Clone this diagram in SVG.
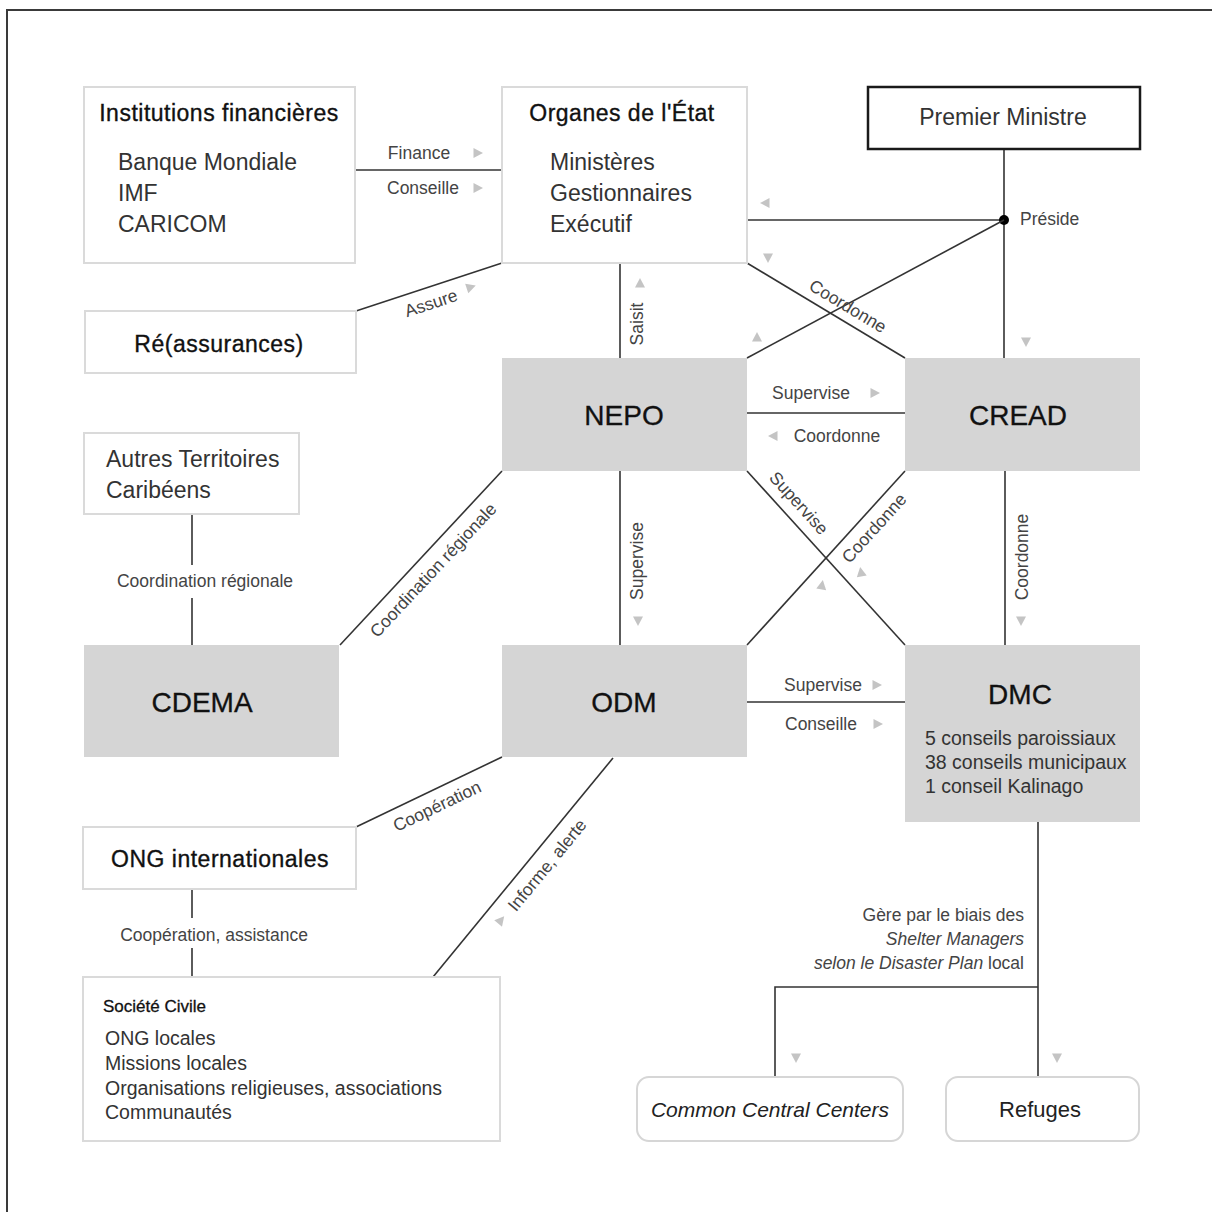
<svg xmlns="http://www.w3.org/2000/svg" xmlns:xlink="http://www.w3.org/1999/xlink" width="1212" height="1212" viewBox="0 0 1212 1212">
<style>
.frame{fill:none;stroke:#3a3a3a;stroke-width:2}
.box{fill:#fff;stroke:#dadada;stroke-width:2}
.gbox{fill:#d5d5d5;stroke:none}
.pm{fill:#fff;stroke:#1a1a1a;stroke-width:2.5}
.rbox{fill:#fff;stroke:#d6d6d6;stroke-width:2}
.ln{fill:none;stroke:#333;stroke-width:1.6}
text{font-family:"Liberation Sans",Arial,sans-serif}
.ttl{font-size:23px;fill:#111;letter-spacing:0.5px;stroke:#111;stroke-width:0.35}
.itm{font-size:23px;fill:#333}
.big{font-size:28px;fill:#111;stroke:#111;stroke-width:0.3}
.lbl{font-size:17.5px;fill:#444}
.sm{font-size:19.5px;fill:#333}
.arr{fill:#c4c4c4}
</style>
<defs>
<path id="tri" d="M-4.5,-5 L5,0 L-4.5,5Z"/>
</defs>
<rect class="frame" x="7" y="10" width="1240" height="1240"/>

<g id="connectors">
<line class="ln" x1="355" y1="170" x2="502" y2="170"/>
<line class="ln" x1="356" y1="311" x2="502" y2="263"/>
<line class="ln" x1="1004" y1="149" x2="1004" y2="358"/>
<line class="ln" x1="747" y1="220" x2="1004" y2="220"/>
<circle cx="1004" cy="220" r="5" fill="#000"/>
<line class="ln" x1="1004" y1="220" x2="747" y2="358"/>
<line class="ln" x1="747" y1="263" x2="905" y2="358"/>
<line class="ln" x1="620" y1="263" x2="620" y2="358"/>
<line class="ln" x1="747" y1="413" x2="905" y2="413"/>
<line class="ln" x1="620" y1="471" x2="620" y2="645"/>
<line class="ln" x1="747" y1="471" x2="905" y2="645"/>
<line class="ln" x1="905" y1="471" x2="747" y2="645"/>
<line class="ln" x1="1005" y1="471" x2="1005" y2="645"/>
<line class="ln" x1="747" y1="702" x2="905" y2="702"/>
<line class="ln" x1="502" y1="471" x2="340" y2="645"/>
<line class="ln" x1="192" y1="514" x2="192" y2="565"/>
<line class="ln" x1="192" y1="598" x2="192" y2="645"/>
<line class="ln" x1="356" y1="827" x2="502" y2="757"/>
<line class="ln" x1="613" y1="758" x2="433" y2="977"/>
<line class="ln" x1="192" y1="889" x2="192" y2="918"/>
<line class="ln" x1="192" y1="948" x2="192" y2="977"/>
<polyline class="ln" points="1038,822 1038,1077"/>
<polyline class="ln" points="1038,987 775,987 775,1077"/>

<text class="lbl" x="419" y="159" text-anchor="middle">Finance</text>
<text class="lbl" x="423" y="194" text-anchor="middle">Conseille</text>
<use href="#tri" class="arr" transform="translate(478,153)"/>
<use href="#tri" class="arr" transform="translate(478,188)"/>
<text class="lbl" transform="translate(431,303) rotate(-18.2)" text-anchor="middle" dy="0.35em">Assure</text>
<use href="#tri" class="arr" transform="translate(471,287) rotate(-18.2)"/>
<text class="lbl" x="1020" y="225">Préside</text>
<use href="#tri" class="arr" transform="translate(765,203) rotate(180)"/>
<use href="#tri" class="arr" transform="translate(768,258) rotate(90)"/>
<use href="#tri" class="arr" transform="translate(757,337) rotate(-90)"/>
<use href="#tri" class="arr" transform="translate(1026,342) rotate(90)"/>
<text class="lbl" transform="translate(848,306) rotate(31)" text-anchor="middle" dy="0.35em">Coordonne</text>
<text class="lbl" transform="translate(637,324) rotate(-90)" text-anchor="middle" dy="0.35em">Saisit</text>
<use href="#tri" class="arr" transform="translate(640,283) rotate(-90)"/>
<text class="lbl" x="811" y="399" text-anchor="middle">Supervise</text>
<use href="#tri" class="arr" transform="translate(875,393)"/>
<text class="lbl" x="837" y="442" text-anchor="middle">Coordonne</text>
<use href="#tri" class="arr" transform="translate(773,436) rotate(180)"/>
<text class="lbl" transform="translate(637,561) rotate(-90)" text-anchor="middle" dy="0.35em">Supervise</text>
<use href="#tri" class="arr" transform="translate(638,621) rotate(90)"/>
<text class="lbl" transform="translate(799,503) rotate(47.8)" text-anchor="middle" dy="0.35em">Supervise</text>
<text class="lbl" transform="translate(874,528) rotate(-47.8)" text-anchor="middle" dy="0.35em">Coordonne</text>
<use href="#tri" class="arr" transform="translate(861,572) rotate(-100)"/>
<use href="#tri" class="arr" transform="translate(822,585) rotate(-80)"/>
<text class="lbl" transform="translate(1022,557) rotate(-90)" text-anchor="middle" dy="0.35em">Coordonne</text>
<use href="#tri" class="arr" transform="translate(1021,621) rotate(90)"/>
<text class="lbl" x="823" y="691" text-anchor="middle">Supervise</text>
<use href="#tri" class="arr" transform="translate(877,685)"/>
<text class="lbl" x="821" y="730" text-anchor="middle">Conseille</text>
<use href="#tri" class="arr" transform="translate(878,724)"/>
<text class="lbl" transform="translate(433,570) rotate(-47)" text-anchor="middle" dy="0.35em">Coordination régionale</text>
<text class="lbl" x="205" y="587" text-anchor="middle">Coordination régionale</text>
<text class="lbl" transform="translate(437,806) rotate(-25.6)" text-anchor="middle" dy="0.35em">Coopération</text>
<text class="lbl" transform="translate(547,865) rotate(-50.6)" text-anchor="middle" dy="0.35em">Informe, alerte</text>
<use href="#tri" class="arr" transform="translate(501,920) rotate(-50.6)"/>
<text class="lbl" x="214" y="941" text-anchor="middle">Coopération, assistance</text>
<text class="lbl" text-anchor="end"><tspan x="1024" y="921">Gère par le biais des</tspan><tspan x="1024" y="945" font-style="italic">Shelter Managers</tspan><tspan x="1024" y="969"><tspan font-style="italic">selon le Disaster Plan</tspan> local</tspan></text>
<use href="#tri" class="arr" transform="translate(796,1058) rotate(90)"/>
<use href="#tri" class="arr" transform="translate(1057,1058) rotate(90)"/>
</g>

<g id="institutions">
<rect class="box" x="84" y="87" width="271" height="176"/>
<text class="ttl" x="219" y="121" text-anchor="middle">Institutions financières</text>
<text class="itm"><tspan x="118" y="170">Banque Mondiale</tspan><tspan x="118" y="201">IMF</tspan><tspan x="118" y="232">CARICOM</tspan></text>
</g>
<g id="organes">
<rect class="box" x="502" y="87" width="245" height="176"/>
<text class="ttl" x="622" y="121" text-anchor="middle">Organes de l'État</text>
<text class="itm"><tspan x="550" y="170">Ministères</tspan><tspan x="550" y="201">Gestionnaires</tspan><tspan x="550" y="232">Exécutif</tspan></text>
</g>
<g id="premier">
<rect class="pm" x="868" y="87" width="272" height="62"/>
<text class="itm" x="1003" y="125" text-anchor="middle" fill="#222">Premier Ministre</text>
</g>
<g id="reassurances">
<rect class="box" x="85" y="311" width="271" height="62"/>
<text class="ttl" x="219" y="352" text-anchor="middle">Ré(assurances)</text>
</g>
<g id="nepo">
<rect class="gbox" x="502" y="358" width="245" height="113"/>
<text class="big" x="624" y="425" text-anchor="middle">NEPO</text>
</g>
<g id="cread">
<rect class="gbox" x="905" y="358" width="235" height="113"/>
<text class="big" x="1018" y="425" text-anchor="middle">CREAD</text>
</g>
<g id="autres">
<rect class="box" x="84" y="433" width="215" height="81"/>
<text class="itm"><tspan x="106" y="467">Autres Territoires</tspan><tspan x="106" y="498">Caribéens</tspan></text>
</g>
<g id="cdema">
<rect class="gbox" x="84" y="645" width="255" height="112"/>
<text class="big" x="202" y="712" text-anchor="middle">CDEMA</text>
</g>
<g id="odm">
<rect class="gbox" x="502" y="645" width="245" height="112"/>
<text class="big" x="624" y="712" text-anchor="middle">ODM</text>
</g>
<g id="dmc">
<rect class="gbox" x="905" y="645" width="235" height="177"/>
<text class="big" x="1020" y="704" text-anchor="middle">DMC</text>
<text class="sm"><tspan x="925" y="745">5 conseils paroissiaux</tspan><tspan x="925" y="769">38 conseils municipaux</tspan><tspan x="925" y="793">1 conseil Kalinago</tspan></text>
</g>
<g id="ong">
<rect class="box" x="83" y="827" width="273" height="62"/>
<text class="ttl" x="220" y="867" text-anchor="middle">ONG internationales</text>
</g>
<g id="societe">
<rect class="box" x="83" y="977" width="417" height="164"/>
<text x="103" y="1012" font-size="17px" fill="#111" stroke="#111" stroke-width="0.3">Société Civile</text>
<text class="sm" font-size="19px"><tspan x="105" y="1045">ONG locales</tspan><tspan x="105" y="1070">Missions locales</tspan><tspan x="105" y="1095">Organisations religieuses, associations</tspan><tspan x="105" y="1119">Communautés</tspan></text>
</g>
<g id="ccc">
<rect class="rbox" x="637" y="1077" width="266" height="64" rx="12"/>
<text x="770" y="1117" text-anchor="middle" font-size="21px" font-style="italic" fill="#222">Common Central Centers</text>
</g>
<g id="refuges">
<rect class="rbox" x="946" y="1077" width="193" height="64" rx="12"/>
<text x="1040" y="1117" text-anchor="middle" font-size="22px" fill="#222">Refuges</text>
</g>
</svg>
